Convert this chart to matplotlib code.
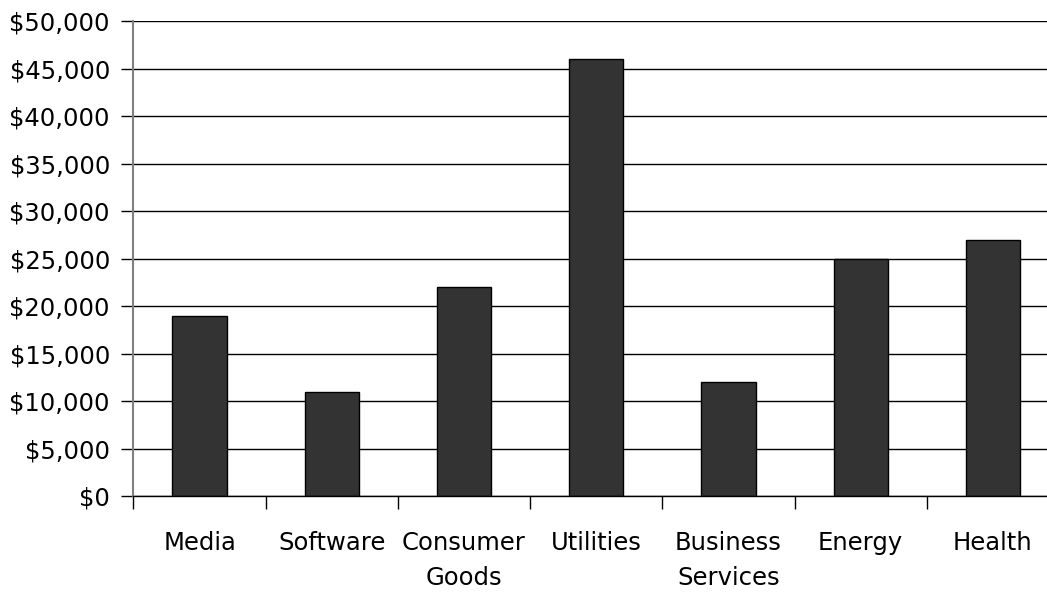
import numpy as np
import matplotlib
matplotlib.use('Agg')
import matplotlib.pyplot as plt
from matplotlib.ticker import FuncFormatter, MultipleLocator

# Sector values
sectors = ['Media', 'Software', 'Consumer\nGoods', 'Utilities',
           'Business\nServices', 'Energy', 'Health']
amounts = [19000, 11000, 22000, 46000, 12000, 25000, 27000]

plt.rcParams['font.family'] = ['DejaVu Sans']

fig = plt.figure(figsize=(10.47, 5.92), dpi=100)
# axes runs slightly past the right edge of the figure
ax = fig.add_axes([0.1275, 0.162, 0.884, 0.8025])

x = np.arange(len(sectors))
ax.bar(x, amounts, width=0.41, color='#333333', edgecolor='black',
       linewidth=1.0, zorder=3)

ax.set_xlim(-0.5, len(sectors) - 0.5)
ax.set_ylim(0, 50000)

# Y axis: dollar ticks every 5000 with horizontal grid
ax.yaxis.set_major_locator(MultipleLocator(5000))
ax.yaxis.set_major_formatter(FuncFormatter(lambda v, p: '${:,.0f}'.format(v)))
ax.yaxis.grid(True, color='black', linewidth=1.0, zorder=0)
ax.get_ygridlines()[-1].set_color('#808080')
ax.get_ygridlines()[-1].set_linewidth(1.5)
ax.tick_params(axis='y', direction='out', length=9, width=1,
               color='black', labelsize=17.5, pad=8)

# X axis: labels at bar centres, tick marks between categories
ax.set_xticks(x)
ax.set_xticklabels(sectors, fontsize=17.5, linespacing=1.6)
ax.set_xticks(np.arange(len(sectors) + 1) - 0.5, minor=True)
ax.tick_params(axis='x', which='major', length=0, pad=25)
ax.tick_params(axis='x', which='minor', direction='out', length=9,
               width=1, color='black')

for side in ['top', 'right']:
    ax.spines[side].set_visible(False)
ax.spines['left'].set_color('#808080')
ax.spines['left'].set_linewidth(1.5)
ax.spines['bottom'].set_color('black')
ax.spines['bottom'].set_linewidth(1.0)
ax.spines['bottom'].set_zorder(4)

fig.savefig('out.png', dpi=100)
